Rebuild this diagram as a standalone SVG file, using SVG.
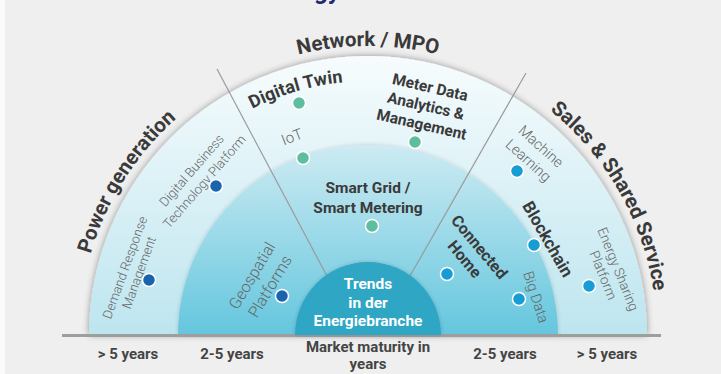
<svg xmlns="http://www.w3.org/2000/svg" width="721" height="374" viewBox="0 0 721 374">
<style>
  .bold { font-family: Roboto, "Liberation Sans", sans-serif; font-weight: 700; fill: #3a3a3a; }
  .light { font-family: Roboto, "Liberation Sans", sans-serif; font-weight: 300; fill: #666666; }
  .arc-label { font-size: 20.5px; }
  .years { font-family: Roboto, "Liberation Sans", sans-serif; font-weight: 700; font-size: 15px; fill: #444; text-anchor: middle; }
  .dot { stroke: #ffffff; stroke-width: 1.5; }
  .green { fill: #5cbe9f; }
  .navy { fill: #1a64ae; }
  .cyan { fill: #179cd6; }
  .divider { stroke: #9a9a9a; stroke-width: 1.2; fill: none; }
  .ctr { text-anchor: middle; }
</style>
<defs>
  <linearGradient id="gOuter" x1="0" y1="56" x2="0" y2="335" gradientUnits="userSpaceOnUse">
    <stop offset="0" stop-color="#f7fcfd"/>
    <stop offset="1" stop-color="#bde5ef"/>
  </linearGradient>
  <linearGradient id="gMid" x1="0" y1="145" x2="0" y2="335" gradientUnits="userSpaceOnUse">
    <stop offset="0" stop-color="#cdebf2"/>
    <stop offset="1" stop-color="#64c6de"/>
  </linearGradient>
  <filter id="shadow" x="-10%" y="-10%" width="120%" height="120%">
    <feGaussianBlur in="SourceAlpha" stdDeviation="3.5"/>
    <feComponentTransfer><feFuncA type="linear" slope="0.4"/></feComponentTransfer>
    <feMerge><feMergeNode/><feMergeNode in="SourceGraphic"/></feMerge>
  </filter>
  <filter id="shadowSoft" x="-10%" y="-10%" width="120%" height="120%">
    <feGaussianBlur in="SourceAlpha" stdDeviation="2"/>
    <feComponentTransfer><feFuncA type="linear" slope="0.18"/></feComponentTransfer>
    <feMerge><feMergeNode/><feMergeNode in="SourceGraphic"/></feMerge>
  </filter>
  <path id="arcLabel" d="M 79 335 A 289 289 0 0 1 657 335"/>
  <path id="arcTwin" d="M 114 335 A 254 254 0 0 1 622 335"/>
</defs>

<rect x="0" y="0" width="721" height="374" fill="#efefef"/>
<rect x="0" y="0" width="5" height="374" fill="#fbfbfb"/>
<text x="314" y="-1" font-family="Roboto, 'Liberation Sans', sans-serif" font-weight="700" font-size="24" fill="#1f2d6e">gy</text>

<g id="rings">
  <path d="M 89 335 A 279 279 0 0 1 647 335 Z" fill="url(#gOuter)" filter="url(#shadow)"/>
  <path d="M 178 335 A 190 190 0 0 1 558 335 Z" fill="url(#gMid)" filter="url(#shadowSoft)"/>
</g>

<g id="connectors">
  <line class="divider" x1="217" y1="69" x2="328" y2="278"/>
  <line class="divider" x1="526" y1="73" x2="410" y2="276"/>
  <line x1="62" y1="335.5" x2="661" y2="335.5" stroke="#9e9e9e" stroke-width="3"/>
</g>

<g id="center">
  <path d="M 295 335 A 73 73 0 0 1 441 335 Z" fill="#2ea6c4" filter="url(#shadowSoft)"/>
  <text class="bold ctr" x="368" y="289" font-size="15.5" style="fill:#fff">Trends</text>
  <text class="bold ctr" x="368" y="308" font-size="15.5" style="fill:#fff">in der</text>
  <text class="bold ctr" x="368" y="326" font-size="15.5" style="fill:#fff">Energiebranche</text>
</g>

<g id="segment-labels">
  <text class="bold arc-label"><textPath href="#arcLabel" startOffset="50%" text-anchor="middle">Network / MPO</textPath></text>
  <text class="bold arc-label"><textPath href="#arcLabel" startOffset="18%" text-anchor="middle">Power generation</textPath></text>
  <text class="bold arc-label"><textPath href="#arcLabel" startOffset="83.4%" text-anchor="middle">Sales &amp; Shared Service</textPath></text>
</g>

<g id="digital-twin">
  <text class="bold" font-size="18"><textPath href="#arcTwin" startOffset="40.9%" text-anchor="middle">Digital Twin</textPath></text>
  <circle class="dot green" cx="299" cy="103" r="6.5"/>
</g>

<g id="meter-data">
  <g transform="rotate(13 425 110)">
    <text class="bold ctr" x="425" y="92" font-size="15.5">Meter Data</text>
    <text class="bold ctr" x="425" y="111" font-size="15.5">Analytics &amp;</text>
    <text class="bold ctr" x="425" y="130" font-size="15.5">Management</text>
  </g>
  <circle class="dot green" cx="415" cy="142" r="6.5"/>
</g>

<g id="iot">
  <text class="light ctr" x="0" y="5" font-size="15" transform="translate(292 137) rotate(-21)">IoT</text>
  <circle class="dot green" cx="303" cy="158" r="6.5"/>
</g>

<g id="smart-grid">
  <text class="bold ctr" x="368" y="193" font-size="15.5">Smart Grid /</text>
  <text class="bold ctr" x="368" y="213" font-size="15.5">Smart Metering</text>
  <circle class="dot green" cx="372" cy="226" r="6.5"/>
</g>

<g id="connected-home">
  <g transform="translate(472 253) rotate(50)">
    <text class="bold ctr" x="0" y="-4" font-size="16">Connected</text>
    <text class="bold ctr" x="0" y="15" font-size="16">Home</text>
  </g>
  <circle class="dot cyan" cx="447" cy="274" r="6.5"/>
</g>

<g id="geospatial">
  <g transform="translate(261 281) rotate(-59)">
    <text class="light ctr" x="0" y="-5" font-size="16">Geospatial</text>
    <text class="light ctr" x="0" y="16" font-size="16">Platforms</text>
  </g>
  <circle class="dot navy" cx="282" cy="296" r="6.5"/>
</g>

<g id="digital-business">
  <g transform="translate(198 176) rotate(-49)">
    <text class="light ctr" x="0" y="-4" font-size="13">Digital Business</text>
    <text class="light ctr" x="0" y="13" font-size="13">Technology Platform</text>
  </g>
  <circle class="dot navy" cx="216" cy="186" r="6.5"/>
</g>

<g id="demand-response">
  <g transform="translate(132 270) rotate(-70)">
    <text class="light ctr" x="0" y="-3" font-size="13">Demand Response</text>
    <text class="light ctr" x="0" y="12" font-size="13">Management</text>
  </g>
  <circle class="dot navy" cx="149" cy="280" r="6.5"/>
</g>

<g id="machine-learning">
  <g transform="translate(535 153) rotate(42)">
    <text class="light ctr" x="0" y="-4" font-size="14.5">Machine</text>
    <text class="light ctr" x="0" y="15" font-size="14.5">Learning</text>
  </g>
  <circle class="dot cyan" cx="517" cy="171" r="6.5"/>
</g>

<g id="blockchain">
  <text class="bold ctr" x="0" y="6" font-size="17" transform="translate(548 239) rotate(60)">Blockchain</text>
  <circle class="dot cyan" cx="534" cy="245" r="6.5"/>
</g>

<g id="big-data">
  <text class="light ctr" x="0" y="5" font-size="14.5" transform="translate(536 297) rotate(72)">Big Data</text>
  <circle class="dot cyan" cx="519" cy="299" r="6.5"/>
</g>

<g id="energy-sharing">
  <g transform="translate(611 272) rotate(68)">
    <text class="light ctr" x="0" y="-3" font-size="13.5">Energy Sharing</text>
    <text class="light ctr" x="0" y="13" font-size="13.5">Platform</text>
  </g>
  <circle class="dot cyan" cx="589" cy="286" r="6.5"/>
</g>

<g id="axis-labels">
  <text class="years" x="128" y="359">&gt; 5 years</text>
  <text class="years" x="232" y="359">2-5 years</text>
  <text class="years" x="368" y="352">Market maturity in</text>
  <text class="years" x="368" y="369">years</text>
  <text class="years" x="505" y="359">2-5 years</text>
  <text class="years" x="607" y="359">&gt; 5 years</text>
</g>
</svg>
